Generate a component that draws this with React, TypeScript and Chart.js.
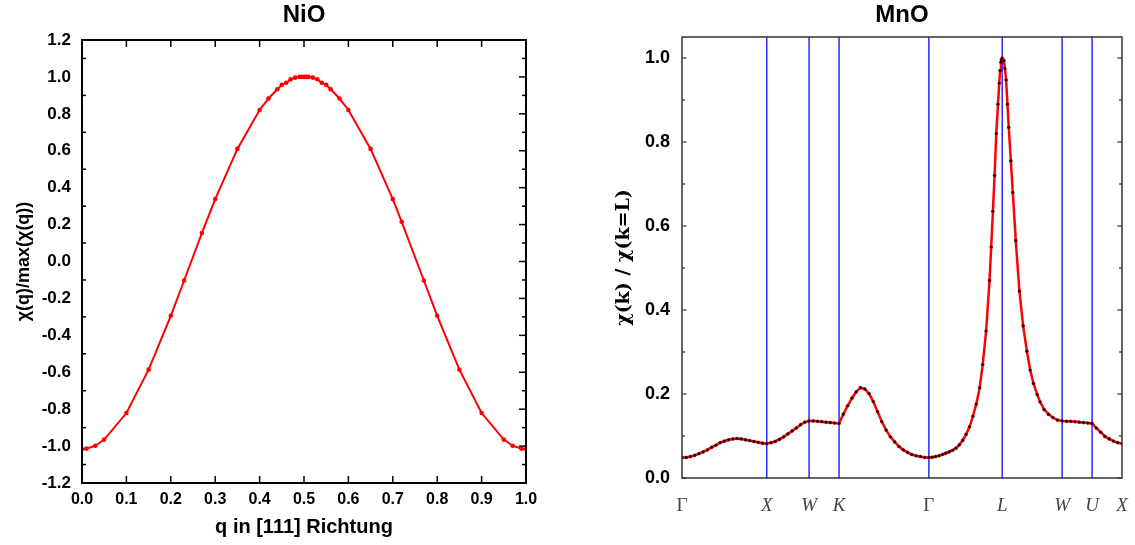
import React, { useEffect, useRef } from 'react';
import { Chart, registerables } from 'chart.js';

Chart.register(...registerables);

// ---------- NiO data ----------
const nioQ = [0, 0.01, 0.03, 0.05, 0.1, 0.15, 0.2, 0.23, 0.27, 0.3, 0.35, 0.4, 0.42, 0.44, 0.45, 0.46, 0.47, 0.48, 0.49, 0.495, 0.5, 0.505, 0.51, 0.52, 0.53, 0.54, 0.55, 0.56, 0.58, 0.6, 0.65, 0.7, 0.72, 0.77, 0.8, 0.85, 0.9, 0.95, 0.97, 0.99, 1.0];
const nioChi = [-1.016, -1.014, -0.998, -0.965, -0.821, -0.586, -0.294, -0.103, 0.154, 0.338, 0.61, 0.821, 0.883, 0.933, 0.957, 0.968, 0.987, 0.996, 1.0, 1.0, 1.0, 1.0, 1.0, 0.996, 0.987, 0.968, 0.957, 0.933, 0.883, 0.821, 0.61, 0.338, 0.215, -0.103, -0.294, -0.586, -0.821, -0.965, -0.998, -1.014, -1.016];
const nioXTicks = [0, 0.1, 0.2, 0.3, 0.4, 0.5, 0.6, 0.7, 0.8, 0.9, 1.0];
const nioYTicks = [-1.2, -1.0, -0.8, -0.6, -0.4, -0.2, 0, 0.2, 0.4, 0.6, 0.8, 1.0, 1.2];
const nioYMinor = [-1.1, -0.9, -0.7, -0.5, -0.3, -0.1, 0.1, 0.3, 0.5, 0.7, 0.9, 1.1];
const nioXInner = [0.1, 0.2, 0.3, 0.4, 0.5, 0.6, 0.7, 0.8, 0.9];
const nioYInner = [-1.0, -0.8, -0.6, -0.4, -0.2, 0, 0.2, 0.4, 0.6, 0.8, 1.0];

// ---------- MnO data ----------
const mnoK = [
  0, 0.05, 0.1, 0.15, 0.2, 0.25, 0.3, 0.35, 0.4, 0.45, 0.5, 0.55, 0.6, 0.65, 0.7, 0.75, 0.8, 0.85, 0.9, 0.95, 1.0,
  1.05, 1.1, 1.15, 1.2, 1.25, 1.3, 1.35, 1.4, 1.45, 1.5,
  1.55, 1.6, 1.65, 1.7, 1.75, 1.8, 1.854,
  1.905, 1.955, 2.006, 2.056, 2.107, 2.157, 2.208, 2.258, 2.309, 2.359, 2.41, 2.46, 2.511, 2.561, 2.612, 2.662, 2.713, 2.763, 2.814, 2.864, 2.914,
  2.954, 2.994, 3.034, 3.074, 3.114, 3.154, 3.194, 3.234, 3.274, 3.314, 3.354, 3.394, 3.434, 3.474, 3.514, 3.55, 3.59, 3.63, 3.65, 3.67, 3.69, 3.71, 3.73, 3.745, 3.755, 3.765, 3.772, 3.78,
  3.8, 3.812, 3.826, 3.842, 3.857, 3.882, 3.905, 3.94, 3.983, 4.027, 4.071, 4.11, 4.149, 4.192, 4.228, 4.275, 4.326, 4.378, 4.432, 4.487,
  4.538, 4.588, 4.639, 4.689, 4.74, 4.79, 4.841,
  4.891, 4.942, 4.992, 5.043, 5.093, 5.144, 5.194,
];
const mnoChi = [
  0.049, 0.049, 0.051, 0.054, 0.058, 0.062, 0.067, 0.073, 0.078, 0.084, 0.088, 0.091, 0.093, 0.094, 0.093, 0.091, 0.089, 0.087, 0.085, 0.083, 0.082,
  0.084, 0.087, 0.092, 0.098, 0.105, 0.112, 0.119, 0.127, 0.133, 0.136,
  0.136, 0.135, 0.134, 0.133, 0.132, 0.131, 0.13,
  0.152, 0.172, 0.19, 0.205, 0.215, 0.212, 0.201, 0.182, 0.158, 0.134, 0.114, 0.098, 0.086, 0.075, 0.067, 0.061, 0.056, 0.053, 0.051, 0.049, 0.049,
  0.0495, 0.051, 0.053, 0.056, 0.059, 0.062, 0.066, 0.071, 0.079, 0.09, 0.104, 0.122, 0.147, 0.176, 0.215, 0.27, 0.35, 0.47, 0.55, 0.635, 0.72, 0.82, 0.89, 0.94, 0.97, 0.99, 0.997, 1.0,
  0.994, 0.975, 0.948, 0.89, 0.835, 0.755, 0.68, 0.565, 0.445, 0.362, 0.302, 0.257, 0.225, 0.199, 0.181, 0.163, 0.152, 0.144, 0.138, 0.136,
  0.135, 0.135, 0.134, 0.133, 0.132, 0.131, 0.13,
  0.119, 0.109, 0.099, 0.093, 0.088, 0.084, 0.082,
];
const mnoSymK = [0, 1, 1.5, 1.854, 2.914, 3.78, 4.487, 4.841, 5.194];
const mnoSymLabels = ['Γ', 'X', 'W', 'K', 'Γ', 'L', 'W', 'U', 'X'];
const mnoYTicks = [0, 0.2, 0.4, 0.6, 0.8, 1.0];
const mnoYMinor = [0.1, 0.3, 0.5, 0.7, 0.9];

const fmt1 = (v: number) => (Math.abs(v) < 1e-9 ? '0.0' : Number(v).toFixed(1));

const framePlugin = {
  id: 'frame',
  afterDatasetsDraw(chart: any, _args: any, opts: any) {
    const { ctx, chartArea: a, scales } = chart;
    ctx.save();
    ctx.strokeStyle = opts.color || '#000';
    ctx.lineWidth = opts.tickWidth || 1.5;
    (opts.marks || []).forEach((m: any) => {
      const sc = scales[m.scale];
      m.values.forEach((v: number) => {
        const p = sc.getPixelForValue(v);
        ctx.beginPath();
        if (m.side === 'left') { ctx.moveTo(a.left, p); ctx.lineTo(a.left + m.len, p); }
        else if (m.side === 'right') { ctx.moveTo(a.right, p); ctx.lineTo(a.right - m.len, p); }
        else if (m.side === 'top') { ctx.moveTo(p, a.top); ctx.lineTo(p, a.top + m.len); }
        else { ctx.moveTo(p, a.bottom); ctx.lineTo(p, a.bottom - m.len); }
        ctx.stroke();
      });
    });
    ctx.lineWidth = opts.width || 2;
    ctx.strokeRect(a.left, a.top, a.right - a.left, a.bottom - a.top);
    ctx.restore();
  },
};

const vlinePlugin = {
  id: 'vlines',
  beforeDatasetsDraw(chart: any, _args: any, opts: any) {
    if (!opts || !opts.values) return;
    const { ctx, chartArea: a, scales } = chart;
    ctx.save();
    ctx.strokeStyle = opts.color;
    ctx.lineWidth = opts.width;
    opts.values.forEach((v: number) => {
      const x = scales.x.getPixelForValue(v);
      ctx.beginPath();
      ctx.moveTo(x, a.top);
      ctx.lineTo(x, a.bottom);
      ctx.stroke();
    });
    ctx.restore();
  },
};

const SANS = '"Liberation Sans", Arial, sans-serif';

export default function App() {
  const leftRef = useRef<HTMLCanvasElement>(null);
  const rightRef = useRef<HTMLCanvasElement>(null);

  useEffect(() => {
    const left = new Chart(leftRef.current as HTMLCanvasElement, {
      type: 'line',
      data: {
        datasets: [
          {
            data: nioQ.map((q, i) => ({ x: q, y: nioChi[i] })),
            borderColor: '#ff0000',
            borderWidth: 2,
            pointRadius: 2.3,
            pointBackgroundColor: '#ff0000',
            pointBorderWidth: 0,
            tension: 0,
          },
        ],
      },
      options: {
        responsive: false,
        animation: false,
        layout: { padding: { left: 0, right: 34, top: 0, bottom: 0 } },
        plugins: {
          legend: { display: false },
          tooltip: { enabled: false },
          frame: {
            color: '#000',
            width: 2,
            tickWidth: 1.5,
            marks: [
              { scale: 'y', side: 'left', values: nioYMinor, len: 4 },
              { scale: 'y', side: 'right', values: nioYInner, len: 7 },
              { scale: 'y', side: 'right', values: nioYMinor, len: 4 },
              { scale: 'x', side: 'bottom', values: nioXInner, len: 7 },
              { scale: 'x', side: 'top', values: nioXInner, len: 7 },
            ],
          },
        } as any,
        scales: {
          x: {
            type: 'linear',
            position: 'bottom',
            min: 0,
            max: 1,
            grid: { display: false, drawTicks: false },
            border: { display: false },
            afterBuildTicks: (s: any) => { s.ticks = nioXTicks.map((v) => ({ value: v })); },
            afterFit: (s: any) => { s.height = 62; s.paddingLeft = 0; s.paddingRight = 0; },
            ticks: {
              padding: 7,
              color: '#000',
              font: { family: SANS, size: 16, weight: 'bold' },
              callback: (v: any) => fmt1(Number(v)),
              autoSkip: false,
              maxRotation: 0,
            },
            title: {
              display: true,
              text: 'q in [111] Richtung',
              color: '#000',
              font: { family: SANS, size: 20, weight: 'bold' },
              padding: { top: 0, bottom: 6 },
            },
          },
          xTop: {
            type: 'linear',
            position: 'top',
            min: 0,
            max: 1,
            grid: { display: false, drawTicks: false },
            border: { display: false },
            ticks: { display: false },
            afterFit: (s: any) => { s.height = 40; s.paddingLeft = 0; s.paddingRight = 0; },
            title: {
              display: true,
              text: 'NiO',
              color: '#000',
              font: { family: SANS, size: 24, weight: 'bold' },
              padding: { top: 1, bottom: 0 },
            },
          },
          y: {
            type: 'linear',
            min: -1.2,
            max: 1.2,
            grid: { display: false, drawTicks: false },
            border: { display: false },
            afterBuildTicks: (s: any) => { s.ticks = nioYTicks.map((v) => ({ value: v })); },
            afterFit: (s: any) => { s.width = 82; s.paddingTop = 0; s.paddingBottom = 0; },
            ticks: {
              padding: 11,
              color: '#000',
              font: { family: SANS, size: 17, weight: 'bold' },
              callback: (v: any) => fmt1(Number(v)),
              autoSkip: false,
            },
            title: {
              display: true,
              text: 'χ(q)/max(χ(q))',
              color: '#000',
              font: { family: SANS, size: 18, weight: 'bold' },
              padding: { top: 13, bottom: 0 },
            },
          },
        },
      } as any,
      plugins: [framePlugin as any],
    });

    const right = new Chart(rightRef.current as HTMLCanvasElement, {
      type: 'line',
      data: {
        datasets: [
          {
            data: mnoK.map((k, i) => ({ x: k, y: mnoChi[i] })),
            borderColor: '#ff0000',
            borderWidth: 2.5,
            pointRadius: 1.6,
            pointBackgroundColor: '#000',
            pointBorderColor: 'rgba(255,0,0,0.35)',
            pointBorderWidth: 1,
            tension: 0,
          },
        ],
      },
      options: {
        responsive: false,
        animation: false,
        layout: { padding: { left: 0, right: 13, top: 0, bottom: 0 } },
        plugins: {
          legend: { display: false },
          tooltip: { enabled: false },
          vlines: { values: mnoSymK.slice(1, -1), color: 'rgb(40,40,255)', width: 1.5 },
          frame: {
            color: '#333',
            width: 1.5,
            tickWidth: 1.2,
            marks: [
              { scale: 'y', side: 'left', values: mnoYTicks, len: 4.5 },
              { scale: 'y', side: 'left', values: mnoYMinor, len: 3 },
              { scale: 'y', side: 'right', values: mnoYTicks, len: 4.5 },
              { scale: 'y', side: 'right', values: mnoYMinor, len: 3 },
            ],
          },
        } as any,
        scales: {
          x: {
            type: 'linear',
            position: 'bottom',
            min: 0,
            max: 5.194,
            grid: { display: false, drawTicks: false },
            border: { display: false },
            afterBuildTicks: (s: any) => { s.ticks = mnoSymK.map((v) => ({ value: v })); },
            afterFit: (s: any) => { s.height = 67; s.paddingLeft = 0; s.paddingRight = 0; },
            ticks: {
              padding: 17,
              color: '#444',
              autoSkip: false,
              maxRotation: 0,
              callback: (_v: any, i: number) => mnoSymLabels[i],
              font: (c: any) => ({
                family: '"Liberation Serif", "DejaVu Serif", serif',
                size: 19,
                style: mnoSymLabels[c.index] === 'Γ' ? 'normal' : 'italic',
              }),
            },
          },
          xTop: {
            type: 'linear',
            position: 'top',
            min: 0,
            max: 1,
            grid: { display: false, drawTicks: false },
            border: { display: false },
            ticks: { display: false },
            afterFit: (s: any) => { s.height = 37; s.paddingLeft = 0; s.paddingRight = 0; },
            title: {
              display: true,
              text: 'MnO',
              color: '#000',
              font: { family: SANS, size: 24, weight: 'bold' },
              padding: { top: 1, bottom: 0 },
            },
          },
          y: {
            type: 'linear',
            min: 0,
            max: 1.05,
            grid: { display: false, drawTicks: false },
            border: { display: false },
            afterBuildTicks: (s: any) => { s.ticks = mnoYTicks.map((v) => ({ value: v })); },
            afterFit: (s: any) => { s.width = 122; s.paddingTop = 0; s.paddingBottom = 0; },
            ticks: {
              padding: 12,
              color: '#000',
              font: { family: SANS, size: 18, weight: 'bold' },
              callback: (v: any) => fmt1(Number(v)),
              autoSkip: false,
            },
            title: {
              display: true,
              text: 'χ(k) / χ(k=L)',
              color: '#000',
              font: { family: '"DejaVu Serif", serif', size: 19, weight: 'bold' },
              padding: { top: 53, bottom: 0 },
            },
          },
        },
      } as any,
      plugins: [vlinePlugin as any, framePlugin as any],
    });

    return () => {
      left.destroy();
      right.destroy();
    };
  }, []);

  return (
    <div style={{ position: 'absolute', left: 0, top: 0, width: 1135, height: 545, background: '#fff' }}>
      <canvas ref={leftRef} width={560} height={545} style={{ position: 'absolute', left: 0, top: 0 }} />
      <canvas ref={rightRef} width={575} height={545} style={{ position: 'absolute', left: 560, top: 0 }} />
    </div>
  );
}
